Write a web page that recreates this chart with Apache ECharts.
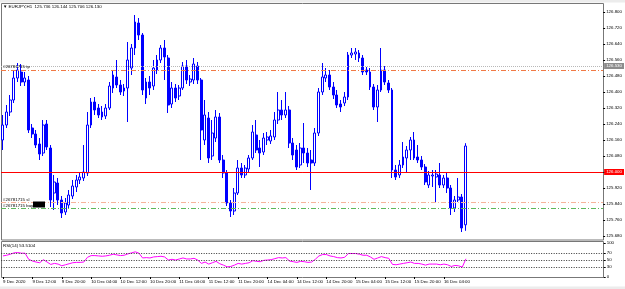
<!DOCTYPE html>
<html>
<head>
<meta charset="utf-8">
<script src="https://cdn.jsdelivr.net/npm/echarts@6/dist/echarts.min.js"></script>
<style>
html, body { margin: 0; padding: 0; background: #fff; }
#chart { width: 625px; height: 289px; }
</style>
</head>
<body>
<div id="chart"></div>
<script>
//  Data: EURJPY H1, 9 Dec 2020 04:00 .. 16 Dec 2020 10:00

var opens = [126.160,126.235,126.300,126.360,126.470,126.500,126.450,126.460,126.220,126.190,
  126.140,126.095,126.240,126.120,125.895,125.945,125.860,125.800,125.835,125.880,
  125.925,125.960,125.970,125.995,126.235,126.350,126.320,126.300,126.280,126.320,
  126.420,126.475,126.435,126.405,126.420,126.520,126.620,126.745,126.685,126.370,
  126.450,126.430,126.510,126.560,126.620,126.570,126.340,126.420,126.380,126.420,
  126.530,126.450,126.460,126.530,126.460,126.160,126.270,126.080,126.170,126.275,
  126.060,125.995,125.845,125.805,125.895,126.020,125.985,126.015,126.070,126.185,
  126.120,126.100,126.160,126.155,126.175,126.260,126.310,126.285,126.310,126.145,
  126.110,126.035,126.120,126.095,126.060,126.045,126.195,126.400,126.470,126.485,
  126.425,126.385,126.340,126.345,126.375,126.585,126.590,126.595,126.570,126.510,
  126.500,126.425,126.325,126.410,126.510,126.445,126.410,126.010,125.985,126.035,
  126.070,126.110,126.160,126.075,126.060,126.025,125.935,125.980,125.975,125.985,
  125.935,125.970,125.920,125.820,125.860,125.875,125.736];
var closes = [126.235,126.300,126.360,126.470,126.510,126.450,126.470,126.210,126.190,126.135,
  126.090,126.235,126.125,125.860,125.950,125.860,125.795,125.845,125.885,125.930,
  125.960,125.975,126.000,126.235,126.350,126.310,126.285,126.275,126.320,126.430,
  126.485,126.435,126.400,126.420,126.560,126.620,126.750,126.685,126.410,126.450,
  126.420,126.520,126.560,126.620,126.575,126.335,126.420,126.370,126.420,126.530,
  126.460,126.465,126.540,126.460,126.210,126.285,126.070,126.195,126.275,126.060,
  125.995,125.845,125.805,125.895,126.020,125.985,126.020,126.070,126.200,126.110,
  126.095,126.170,126.175,126.180,126.260,126.310,126.285,126.310,126.145,126.085,
  126.025,126.120,126.095,126.045,126.045,126.195,126.400,126.475,126.485,126.425,
  126.385,126.335,126.325,126.375,126.585,126.595,126.600,126.570,126.500,126.500,
  126.425,126.325,126.410,126.510,126.450,126.410,126.010,125.975,126.035,126.075,
  126.110,126.160,126.070,126.060,126.025,125.950,125.985,125.985,125.990,125.935,
  125.970,125.920,125.820,125.860,125.875,125.720,126.130];
var lows = [126.110,126.220,126.280,126.345,126.450,126.430,126.430,126.195,126.170,126.120,
  126.060,126.080,126.110,125.825,125.810,125.835,125.770,125.785,125.820,125.865,
  125.900,125.940,125.955,125.980,126.220,126.285,126.270,126.260,126.265,126.310,
  126.395,126.420,126.385,126.380,126.250,126.485,126.585,126.660,126.385,126.340,
  126.385,126.410,126.490,126.545,126.460,126.295,126.320,126.350,126.360,126.410,
  126.440,126.430,126.440,126.440,126.060,126.135,126.045,126.060,126.150,126.045,
  125.970,125.830,125.775,125.785,125.885,125.970,125.970,126.000,126.060,126.095,
  126.025,126.085,126.135,126.140,126.160,126.240,126.260,126.270,126.120,126.060,
  126.010,126.020,126.045,126.025,125.910,126.030,126.180,126.385,126.450,126.410,
  126.365,126.320,126.300,126.330,126.360,126.570,126.560,126.550,126.485,126.485,
  126.410,126.310,126.250,126.400,126.435,126.395,125.970,125.960,125.970,126.020,
  126.000,126.060,126.060,126.045,126.010,125.935,125.920,125.925,125.850,125.920,
  125.920,125.895,125.785,125.800,125.850,125.700,125.706];
var highs = [126.285,126.335,126.385,126.510,126.545,126.540,126.500,126.480,126.240,126.210,
  126.170,126.260,126.260,126.135,125.985,125.970,125.880,125.870,125.910,125.960,
  125.985,126.000,126.135,126.300,126.370,126.375,126.340,126.330,126.340,126.450,
  126.510,126.560,126.460,126.440,126.650,126.640,126.785,126.770,126.695,126.470,
  126.480,126.560,126.585,126.635,126.660,126.585,126.450,126.440,126.435,126.550,
  126.560,126.485,126.570,126.550,126.470,126.360,126.300,126.260,126.310,126.295,
  126.085,126.010,125.860,125.920,126.060,126.045,126.035,126.085,126.235,126.260,
  126.160,126.195,126.200,126.210,126.300,126.400,126.360,126.400,126.330,126.170,
  126.135,126.145,126.245,126.120,126.110,126.220,126.420,126.545,126.520,126.510,
  126.450,126.410,126.360,126.400,126.600,126.620,126.620,126.610,126.585,126.525,
  126.520,126.440,126.435,126.620,126.530,126.460,126.420,126.035,126.060,126.150,
  126.130,126.175,126.200,126.135,126.080,126.040,126.005,126.010,126.010,126.045,
  125.985,125.995,125.935,125.880,125.970,125.890,126.144];
var rsi = [62,64,67,71,72,70,70,52,47,44,
  42,51,44,37,40,38,33,36,39,42,
  43,43,44,58,63,63,62,61,62,64,
  67,65,63,64,68,71,74,70,56,57,
  56,59,60,61,59,50,52,50,53,56,
  53,53,55,50,40,44,38,42,46,39,
  35,30,31,35,40,38,40,42,48,46,
  45,49,50,51,54,57,56,57,47,45,
  43,46,45,43,44,52,62,66,66,62,
  60,57,56,58,69,69,69,67,64,64,
  59,52,56,60,57,55,37,36,38,40,
  42,44,40,40,38,35,38,38,38,36,
  38,36,31,34,33,29,53.5104];

var rsiTicks = [0, 30, 50, 70, 100];
var rsiLevels = [70, 50, 30];
var redLevel = 126.000;
var bidPrice = 126.130;
var grayLevel = 126.530;
var tpLevel = 126.512;
var slLevel = 125.846;
var buyLevel = 125.820;
var slots = 164;

//  Time categories (weekdays only)

var months = ['Jan','Feb','Mar','Apr','May','Jun','Jul','Aug','Sep','Oct','Nov','Dec'];
var cats = [];
var t = Date.UTC(2020, 11, 9, 4);
while (cats.length < opens.length) {
  var d = new Date(t);
  var wd = d.getUTCDay();
  if (wd !== 0 && wd !== 6) {
    var hh = d.getUTCHours();
    var label = d.getUTCDate() + ' ' + months[d.getUTCMonth()] + ' ';
    label += cats.length === 0 ? d.getUTCFullYear() : ((hh < 10 ? '0' : '') + hh + ':00');
    cats.push(label);
  }
  t += 3600000;
}
while (cats.length < slots) cats.push('');

var candles = opens.map(function(o, i) {
  return [o, closes[i], lows[i], highs[i]];
});

var showLabel = function(index) {
  return index % 8 === 0 && index < opens.length;
};

var font = 'Liberation Sans';
var fs = 4.4;

var boxLabel = function(bg, fg, v) {
  return {
    show: true, position: 'end', distance: 1,
    formatter: v.toFixed(3),
    backgroundColor: bg, color: fg,
    fontSize: fs, fontFamily: font,
    padding: [1, 2, 1, 2]
  };
};

var chart = echarts.init(document.getElementById('chart'));

var option = {
  animation: false,
  grid: [
    {left: 1, right: 21.3, top: 4, height: 232},
    {left: 1, right: 21.3, top: 243, height: 34}
  ],
  xAxis: [
    {type: 'category', gridIndex: 0, data: cats,
     axisLine: {show: false}, axisTick: {show: false}, axisLabel: {show: false}},
    {type: 'category', gridIndex: 1, data: cats,
     axisLine: {show: false},
     axisTick: {show: true, alignWithLabel: true, interval: showLabel, length: 2,
                lineStyle: {color: '#000'}},
     axisLabel: {interval: showLabel, align: 'left', margin: 3,
                 fontSize: fs, fontFamily: font, color: '#000'}}
  ],
  yAxis: [
    {type: 'value', gridIndex: 0, position: 'right', scale: true,
     min: 125.68, max: 126.84, interval: 0.08,
     splitLine: {show: false}, axisLine: {show: false},
     axisTick: {show: true, length: 2, lineStyle: {color: '#000'}},
     axisLabel: {showMaxLabel: false, margin: 3, fontSize: fs, fontFamily: font, color: '#000',
                 formatter: function(v) { return v.toFixed(3); }}},
    {type: 'value', gridIndex: 1, position: 'right', min: 0, max: 100,
     splitLine: {show: false}, axisLine: {show: false},
     axisTick: {show: true, length: 2, customValues: rsiTicks, lineStyle: {color: '#000'}},
     axisLabel: {customValues: rsiTicks, margin: 3, fontSize: fs, fontFamily: font, color: '#000'}}
  ],
  series: [
    {
      type: 'candlestick', xAxisIndex: 0, yAxisIndex: 0,
      data: candles, barWidth: 2.4,
      itemStyle: {color: '#ffffff', color0: '#0000ff',
                  borderColor: '#0000ff', borderColor0: '#0000ff', borderWidth: 1},
      markLine: {
        silent: true, symbol: ['none', 'none'], animation: false,
        data: [
          {yAxis: grayLevel, lineStyle: {color: '#b8b8b8', type: [1, 1], width: 1},
           label: boxLabel('#8c8c8c', '#fff', grayLevel)},
          {yAxis: tpLevel, lineStyle: {color: '#f07a45', type: [5, 2, 1, 2], width: 1},
           label: {show: false}},
          {yAxis: slLevel, lineStyle: {color: '#f6b49a', type: [5, 2, 1, 2], width: 1},
           label: {show: false}},
          {yAxis: buyLevel, lineStyle: {color: '#5cb85c', type: [5, 2, 1, 2], width: 1},
           label: {show: false}},
          {yAxis: redLevel, lineStyle: {color: '#ff0000', type: 'solid', width: 1},
           label: boxLabel('#ff0000', '#fff', redLevel)},
          {yAxis: bidPrice, lineStyle: {opacity: 0},
           label: boxLabel('#000000', '#fff', bidPrice)}
        ]
      }
    },
    {
      type: 'line', xAxisIndex: 1, yAxisIndex: 1,
      data: rsi, symbol: 'none',
      lineStyle: {color: '#ff00ff', width: 1},
      markLine: {
        silent: true, symbol: ['none', 'none'], animation: false,
        label: {show: false},
        lineStyle: {color: '#333', type: [1, 1.5], width: 1},
        data: rsiLevels.map(function(v) { return {yAxis: v}; })
      }
    }
  ]
};
chart.setOption(option);

//  Frames and texts

var yOf = function(v) { return chart.convertToPixel({yAxisIndex: 0}, v); };
var txt = function(s, x, y, va) {
  return {type: 'text', silent: true, z: 10,
          style: {text: s, x: x, y: y, verticalAlign: va || 'middle',
                  fontSize: fs, fontFamily: font, fill: '#000'}};
};

var yTp = yOf(tpLevel), ySl = yOf(slLevel), yBuy = yOf(buyLevel);

chart.setOption({
  graphic: [
    {type: 'rect', silent: true, shape: {x: 0, y: 0, width: 625, height: 2.5}, style: {fill: '#ececec'}},
    {type: 'rect', silent: true, shape: {x: 0, y: 286.5, width: 625, height: 3}, style: {fill: '#ececec'}},
    {type: 'rect', silent: true, shape: {x: 1.5, y: 3.5, width: 602, height: 236.5},
     style: {fill: 'none', stroke: '#777', lineWidth: 1}},
    {type: 'rect', silent: true, shape: {x: 1.5, y: 241.5, width: 602, height: 36},
     style: {fill: 'none', stroke: '#777', lineWidth: 1}},
    txt('\u25BC EURJPY,H1  125.736 126.144 125.706 126.130', 3, 7),
    txt('RSI(14) 53.5104', 3, 245.5),
    txt('#26781715 tp', 3, yTp - 0.5, 'bottom'),
    txt('#26781715 sl', 3, ySl - 1.5, 'bottom'),
    txt('#26781715 buy', 3, yBuy - 0.5, 'bottom'),
    {type: 'rect', silent: true, z: 10, shape: {x: 33, y: yBuy - 6.5, width: 12, height: 6},
     style: {fill: '#000'}}
  ]
});
</script>
</body>
</html>
